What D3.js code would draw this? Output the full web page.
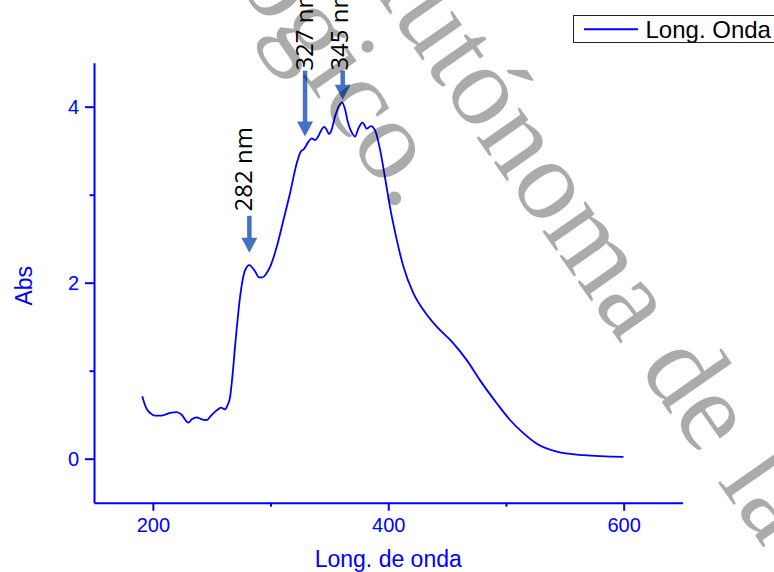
<!DOCTYPE html>
<html><head><meta charset="utf-8">
<script src="https://cdn.jsdelivr.net/npm/d3@7"></script>
<style>html,body{margin:0;padding:0;background:#fff}</style>
</head><body><svg id="c" width="774" height="572"></svg>
<script>
// ---- data ----
const wavelength = [191.0,194.2,197.6,201.8,207.5,214.6,220.3,224.5,230.1,233.3,237.3,240.9,245.8,249.4,254.3,257.9,261.3,263.5,265.6,267.7,269.8,274.1,278.3,282.0,286.8,290.2,293.4,296.2,299.6,305.3,310.9,316.6,322.3,325.7,328.5,332.1,335.0,337.8,340.4,343.8,345.5,347.2,349.7,351.4,354.8,358.2,360.7,363.3,365.4,369.7,371.8,374.8,378.2,381.8,385.2,388.8,393.1,397.3,401.6,407.2,412.9,421.4,429.9,441.2,454.0,466.7,478.0,492.2,503.5,514.8,526.2,543.2,565.8,599.8];
const absorbance = [0.71,0.58,0.52,0.49,0.49,0.52,0.53,0.50,0.41,0.45,0.47,0.45,0.44,0.49,0.55,0.58,0.56,0.61,0.70,0.95,1.27,1.84,2.14,2.20,2.13,2.06,2.06,2.10,2.18,2.41,2.71,3.02,3.36,3.49,3.52,3.60,3.64,3.62,3.66,3.75,3.77,3.75,3.69,3.72,3.89,4.01,4.05,3.97,3.84,3.69,3.66,3.76,3.82,3.75,3.78,3.73,3.51,3.19,2.85,2.49,2.18,1.88,1.69,1.50,1.33,1.12,0.89,0.63,0.44,0.29,0.17,0.08,0.04,0.02];
const xMajorTicks = [200, 400, 600];
const xMinorTicks = [300, 500];
const yMajorTicks = [0, 2, 4];
const yMinorTicks = [1, 3];
const peakLabels = ["282 nm", "327 nm", "345 nm"];
const peakArrowX = [282.0, 329.3, 361.3];
const peakArrowTip = [2.34, 3.66, 4.08];
const peakArrowTail = [2.76, 4.41, 4.41];
const peakLabelX = [284.0, 336.4, 366.1];
const peakLabelStart = [2.81, 4.41, 4.41];
const seriesName = "Long. Onda";
const xTitle = "Long. de onda";
const yTitle = "Abs";
const watermarkLines = ["Tecnológico.", "Autónoma de la"];

// ---- chart ----
const svg = d3.select("#c");
svg.append("rect").attr("width", 774).attr("height", 572).attr("fill", "#fff");
const BLUE = "#0000ff";
const x = d3.scaleLinear().domain([150, 650]).range([94, 682.5]);
const y = d3.scaleLinear().domain([-0.5, 4.5]).range([502.7, 62.7]);

function styleAxis(g) {
  g.select(".domain").attr("stroke", BLUE).attr("stroke-width", 2);
  g.selectAll(".tick line").attr("stroke", BLUE).attr("stroke-width", 2);
  g.selectAll(".tick text").attr("fill", BLUE)
    .style("font-family", "'Liberation Sans', Arial, sans-serif").style("font-size", "20px");
}
const gx = svg.append("g").attr("transform", "translate(0,502.7)")
  .call(d3.axisBottom(x).tickValues(xMajorTicks).tickSize(8).tickSizeOuter(0).tickPadding(7.6).tickFormat(d3.format("d")));
styleAxis(gx);
const gxm = svg.append("g").attr("transform", "translate(0,502.7)")
  .call(d3.axisBottom(x).tickValues(xMinorTicks).tickSize(4).tickFormat(""));
gxm.select(".domain").remove();
styleAxis(gxm);
const gy = svg.append("g").attr("transform", "translate(94,0)")
  .call(d3.axisLeft(y).tickValues(yMajorTicks).tickSize(9).tickSizeOuter(0).tickPadding(6).tickFormat(d3.format("d")));
styleAxis(gy);
const gym = svg.append("g").attr("transform", "translate(94,0)")
  .call(d3.axisLeft(y).tickValues(yMinorTicks).tickSize(4.5).tickFormat(""));
gym.select(".domain").remove();
styleAxis(gym);

// axis titles
svg.append("text").attr("x", (x(150) + x(650)) / 2).attr("y", 566.5).attr("text-anchor", "middle")
  .attr("fill", BLUE).style("font-family", "'Liberation Sans', Arial, sans-serif").style("font-size", "23px").text(xTitle);
svg.append("text").attr("transform", `translate(31.5,${(y(-0.5) + y(4.5)) / 2 + 3}) rotate(-90)`).attr("text-anchor", "middle")
  .attr("fill", BLUE).style("font-family", "'Liberation Sans', Arial, sans-serif").style("font-size", "23px").text(yTitle);

// series line
const pts = wavelength.map((w, i) => [w, absorbance[i]]);
svg.append("path").datum(pts)
  .attr("fill", "none").attr("stroke", BLUE).attr("stroke-width", 1.8).attr("stroke-linejoin", "round")
  .attr("d", d3.line().x(d => x(d[0])).y(d => y(d[1])).curve(d3.curveMonotoneX));

// peak arrows + labels
const ARROW = "#4472C4";
peakLabels.forEach((lab, i) => {
  const ax = x(peakArrowX[i]), tip = y(peakArrowTip[i]), tail = y(peakArrowTail[i]);
  const headLen = 15, headW = 8;
  svg.append("line").attr("x1", ax).attr("x2", ax).attr("y1", tail).attr("y2", tip - headLen + 1)
    .attr("stroke", ARROW).attr("stroke-width", 4.5);
  svg.append("path").attr("d", `M${ax - headW},${tip - headLen}L${ax + headW},${tip - headLen}L${ax},${tip}Z`).attr("fill", ARROW);
  svg.append("text").attr("transform", `translate(${x(peakLabelX[i])},${y(peakLabelStart[i])}) rotate(-90)`)
    .attr("text-anchor", "start").attr("fill", "#000")
    .style("font-family", "'Open Sans', 'Noto Sans', sans-serif").style("font-size", "24px").text(lab);
});

// legend
const lg = svg.append("g");
lg.append("rect").attr("x", 573.5).attr("y", 15.5).attr("width", 260).attr("height", 27)
  .attr("fill", "#fff").attr("stroke", "#222").attr("stroke-width", 1);
lg.append("line").attr("x1", 584).attr("x2", 638).attr("y1", 29.3).attr("y2", 29.3).attr("stroke", BLUE).attr("stroke-width", 2);
lg.append("text").attr("x", 645.5).attr("y", 37.5).attr("fill", "#000")
  .style("font-family", "'Liberation Sans', Arial, sans-serif").style("font-size", "24px").text(seriesName);

// watermark
const wm = svg.append("g").attr("fill", "#000").attr("fill-opacity", 0.33)
  .style("font-family", "'Liberation Serif', 'DejaVu Serif', serif").style("font-size", "115px");
wm.append("text").attr("transform", "translate(398.5,213) rotate(55)").attr("text-anchor", "end").text(watermarkLines[0]);
wm.append("text").attr("transform", "translate(343,-53) rotate(55)").attr("text-anchor", "start").text(watermarkLines[1]);
</script></body></html>
